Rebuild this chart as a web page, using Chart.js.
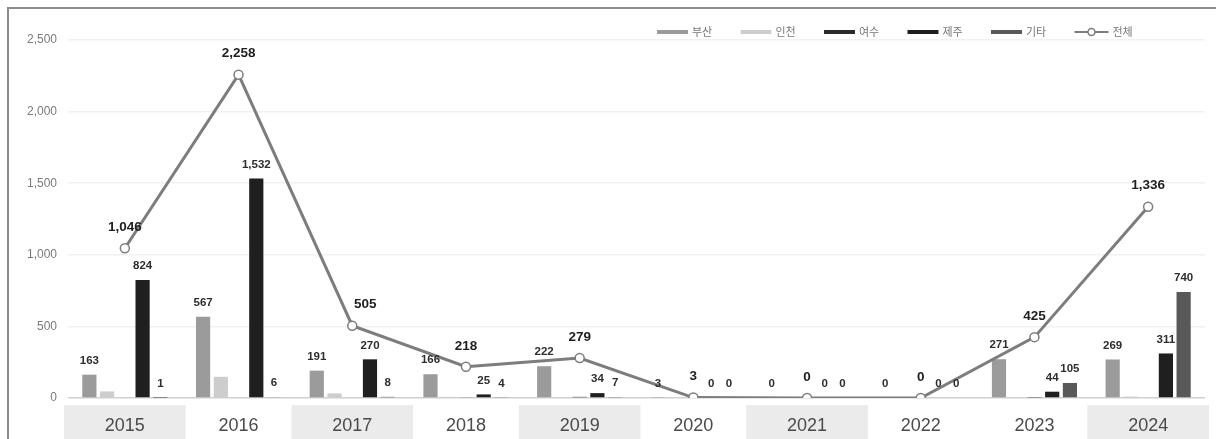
<!DOCTYPE html>
<html>
<head>
<meta charset="utf-8">
<script src="https://cdn.jsdelivr.net/npm/chart.js@4"></script>
<style>
  html, body { margin: 0; padding: 0; background: #fff; }
  #wrap { width: 1216px; height: 439px; position: relative; }
</style>
</head>
<body>
<div id="wrap"><canvas id="grafica" width="1216" height="439"></canvas></div>
<script>
// categorías y series
const years = ['2015', '2016', '2017', '2018', '2019', '2020', '2021', '2022', '2023', '2024'];
const busan   = [163, 567, 191, 166, 222, 3, 0, 0, 271, 269];
const incheon = [46, 148, 32, 8, 3, 0, 0, 0, 2, 10];
const yeosu   = [0, 0, 0, 6, 8, 0, 0, 0, 3, 0];
const jeju    = [824, 1532, 270, 25, 34, 0, 0, 0, 44, 311];
const etc     = [1, 6, 8, 4, 7, 0, 0, 0, 105, 740];
const total   = [1046, 2258, 505, 218, 279, 3, 0, 0, 425, 1336];
const yTicks  = [0, 500, 1000, 1500, 2000, 2500];
const shadedYears = ['2015', '2017', '2019', '2021', '2024'];

const fmt = v => v.toLocaleString('en-US');

// fondo gris alterno bajo las etiquetas del eje x
const bandas = {
    id: 'bandas',
    beforeDraw(chart) {
        const c = chart.ctx, xs = chart.scales.x, a = chart.chartArea;
        const w = xs.width / years.length;
        c.save();
        c.fillStyle = '#ebebeb';
        shadedYears.forEach(y => {
            const cx = xs.getPixelForValue(years.indexOf(y));
            c.fillRect(cx - w / 2 - 4, a.bottom + 7, w + 8, chart.height - a.bottom);
        });
        // marco
        c.strokeStyle = '#8c8c8c';
        c.lineWidth = 2;
        c.beginPath();
        c.moveTo(8, chart.height);
        c.lineTo(8, 8);
        c.lineTo(chart.width, 8);
        c.stroke();
        c.restore();
    }
};

// etiquetas de valores
const etiquetas = {
    id: 'etiquetas',
    afterDatasetsDraw(chart, args, opts) {
        const c = chart.ctx;
        c.save();
        c.textAlign = 'center';
        c.textBaseline = 'middle';
        chart.data.datasets.forEach((ds, i) => {
            if (!ds.showLabels) return;
            const meta = chart.getDatasetMeta(i);
            meta.data.forEach((el, j) => {
                const v = ds.data[j];
                if (ds.type === 'line') {
                    c.font = 'bold 13.5px "Liberation Sans", Arial, sans-serif';
                    c.fillStyle = '#1e1e1e';
                    const dx = (opts.shift && opts.shift[j]) || 0;
                    c.fillText(fmt(v), el.x + dx, el.y - 21);
                } else {
                    c.font = 'bold 11.5px "Liberation Sans", Arial, sans-serif';
                    c.fillStyle = '#2e2e2e';
                    c.fillText(fmt(v), el.x, el.y - 14);
                }
            });
        });
        c.restore();
    }
};

// leyenda dibujada a mano
const leyenda = {
    id: 'leyenda',
    afterDraw(chart) {
        const c = chart.ctx;
        const y = 32;
        let x = 657;
        c.save();
        c.font = '11px "Noto Sans CJK KR", sans-serif';
        c.textBaseline = 'middle';
        chart.data.datasets.forEach(ds => {
            if (ds.type === 'line') {
                c.strokeStyle = ds.borderColor;
                c.lineWidth = 2;
                c.beginPath();
                c.moveTo(x, y); c.lineTo(x + 34, y);
                c.stroke();
                c.beginPath();
                c.arc(x + 17, y, 3.5, 0, Math.PI * 2);
                c.fillStyle = '#fff';
                c.fill();
                c.lineWidth = 1.5;
                c.stroke();
                c.fillStyle = '#777';
                c.fillText(ds.label, x + 38, y);
            } else {
                c.fillStyle = ds.backgroundColor;
                c.fillRect(x, y - 2, 31, 4);
                c.fillStyle = '#777';
                c.fillText(ds.label, x + 35, y);
            }
            x += 83.5;
        });
        c.restore();
    }
};

const barra = (label, data, color, showLabels) => ({
    type: 'bar', label, data, backgroundColor: color, showLabels,
    categoryPercentage: 0.78, barPercentage: 0.8, order: 2
});

const ctx = document.getElementById('grafica').getContext('2d');
new Chart(ctx, {
    type: 'bar',
    data: {
        labels: years,
        datasets: [
            barra('부산', busan, '#9b9b9b', true),
            barra('인천', incheon, '#cdcdcd', false),
            barra('여수', yeosu, '#2b2b2b', false),
            barra('제주', jeju, '#1f1f1f', true),
            barra('기타', etc, '#595959', true),
            {
                type: 'line', label: '전체', data: total, order: 1, showLabels: true,
                borderColor: '#7d7d7d', borderWidth: 3,
                pointRadius: 4.5, pointBackgroundColor: '#fff',
                pointBorderColor: '#7d7d7d', pointBorderWidth: 1.5
            }
        ]
    },
    options: {
        responsive: false,
        animation: false,
        layout: { padding: { top: 40, right: 11, left: 0, bottom: 0 } },
        plugins: {
            legend: { display: false },
            tooltip: { enabled: false },
            etiquetas: { shift: { 2: 13 } }
        },
        scales: {
            x: {
                grid: { display: false },
                border: { display: false },
                ticks: {
                    padding: 9,
                    color: '#4a4a4a',
                    font: { size: 18, family: '"Liberation Sans", Arial, sans-serif' }
                },
                afterFit: s => { s.height = 41; }
            },
            y: {
                min: 0, max: 2500,
                afterBuildTicks: s => { s.ticks = yTicks.map(v => ({ value: v })); },
                grid: {
                    drawTicks: false,
                    color: ctx2 => ctx2.tick && ctx2.tick.value === 0 ? '#d0d0d0' : '#f1f1f1',
                    lineWidth: 1.5
                },
                border: { display: false },
                ticks: {
                    padding: 11,
                    color: '#7a7a7a',
                    font: { size: 12, family: '"Liberation Sans", Arial, sans-serif' },
                    callback: v => fmt(v)
                },
                afterFit: s => { s.width = 68; }
            }
        }
    },
    plugins: [bandas, etiquetas, leyenda]
});
</script>
</body>
</html>
